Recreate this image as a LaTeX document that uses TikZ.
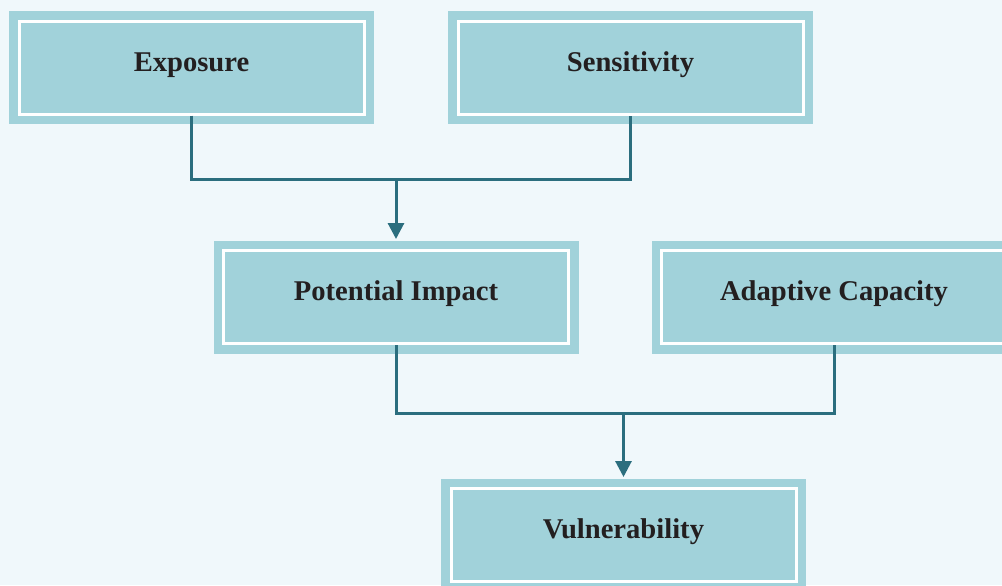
\documentclass[tikz,border=0pt]{standalone}
\usepackage{fontspec}
\setmainfont{Liberation Serif}
\usepackage{xcolor}
\usetikzlibrary{arrows.meta,calc}

\definecolor{boxfill}{HTML}{A1D2DA}
\definecolor{pagebg}{HTML}{F0F8FB}
\definecolor{linkcol}{HTML}{2B6E7E}
\definecolor{textcol}{HTML}{231F20}

\begin{document}
\begin{tikzpicture}[x=0.5pt, y=-0.5pt,
  factor/.style={fill=boxfill, draw=white, line width=1.5pt,
    preaction={draw=boxfill, line width=10pt},
    minimum width=172.5pt, minimum height=46.5pt, inner sep=0pt,
    text height=8pt, text depth=4.5pt, text=textcol,
    font=\fontsize{14.3}{17}\selectfont\bfseries},
  link/.style={draw=linkcol, line width=1.5pt},
  arr/.style={link, -{Triangle[width=8pt,length=8pt]}}]
  % --- page ---
  \fill[pagebg] (0,0) rectangle (1002,585);
  \useasboundingbox (0,0) rectangle (1002,585);
  \clip (0,0) rectangle (1002,585);

  % --- top row ---
  \node[factor] (expo) at (191.5,67.5) {Exposure};
  \node[factor] (sens) at (630.5,67.5) {Sensitivity};
  % --- middle row ---
  \node[factor] (pimpact) at (396,297) {Potential Impact};
  \node[factor] (adapt) at (834,297) {Adaptive Capacity};
  % --- result ---
  \node[factor] (vuln) at (623.5,535) {Vulnerability};

  % Exposure + Sensitivity -> Potential Impact
  \coordinate (topjoin) at (0,179);
  \draw[link] (expo.south) -- (expo.south |- topjoin)
    -- (sens.south |- topjoin) -- (sens.south);
  \draw[arr] (pimpact.north |- topjoin) -- ($(pimpact.north)+(0,-10)$);

  % Potential Impact + Adaptive Capacity -> Vulnerability
  \coordinate (lowjoin) at (0,413);
  \draw[link] (pimpact.south) -- (pimpact.south |- lowjoin)
    -- (adapt.south |- lowjoin) -- (adapt.south);
  \draw[arr] (vuln.north |- lowjoin) -- ($(vuln.north)+(0,-10)$);
\end{tikzpicture}
\end{document}
